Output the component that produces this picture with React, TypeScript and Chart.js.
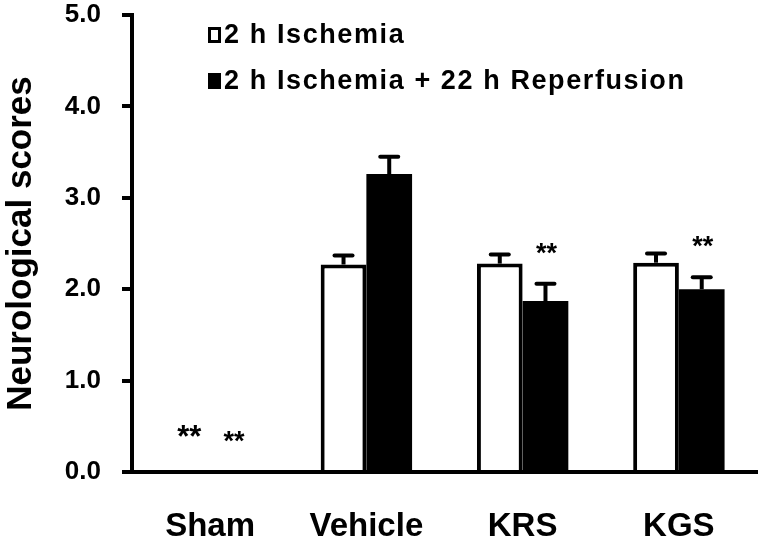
import React, { useEffect, useRef } from 'react';
import { Chart, registerables } from 'chart.js';

Chart.register(...registerables);

const categories = ['Sham', 'Vehicle', 'KRS', 'KGS'];
const seriesLabels = ['2 h Ischemia', '2 h Ischemia + 22 h Reperfusion'];
const ischemia = [0, 2.27, 2.28, 2.29];
const ischemiaErr = [0, 0.1, 0.1, 0.1];
const reperfusion = [0, 3.26, 1.87, 2.0];
const reperfusionErr = [0, 0.19, 0.19, 0.13];
const ischemiaMarks = ['**', '', '', ''];
const reperfusionMarks = ['**', '', '**', '**'];
const yTicks = [0, 1, 2, 3, 4, 5];
const yTitle = 'Neurological scores';

const errors = [ischemiaErr, reperfusionErr];
const marks = [ischemiaMarks, reperfusionMarks];

const FONT = "'Liberation Sans', Arial, sans-serif";

const errorBarPlugin = {
  id: 'errorBars',
  afterDatasetsDraw(chart: any) {
    const ctx = chart.ctx;
    const yScale = chart.scales.y;
    chart.data.datasets.forEach((ds: any, di: number) => {
      const meta = chart.getDatasetMeta(di);
      meta.data.forEach((bar: any, i: number) => {
        const err = errors[di][i];
        const v = ds.data[i];
        if (!err) return;
        const yTop = yScale.getPixelForValue(v + err);
        const yBar = yScale.getPixelForValue(v);
        ctx.save();
        ctx.strokeStyle = '#000';
        ctx.lineWidth = 4;
        ctx.beginPath();
        ctx.moveTo(bar.x, yBar);
        ctx.lineTo(bar.x, yTop);
        ctx.stroke();
        ctx.lineCap = 'round';
        ctx.beginPath();
        ctx.moveTo(bar.x - 9, yTop);
        ctx.lineTo(bar.x + 9, yTop);
        ctx.stroke();
        ctx.restore();
      });
    });
  },
};

const starsPlugin = {
  id: 'stars',
  afterDatasetsDraw(chart: any) {
    const ctx = chart.ctx;
    const yScale = chart.scales.y;
    const sizes = [31, 27];
    const gaps = [25, 22];
    chart.data.datasets.forEach((ds: any, di: number) => {
      const meta = chart.getDatasetMeta(di);
      meta.data.forEach((bar: any, i: number) => {
        const m = marks[di][i];
        if (!m) return;
        const top = ds.data[i] + errors[di][i];
        const baseline = yScale.getPixelForValue(top) - gaps[di];
        ctx.save();
        ctx.fillStyle = '#000';
        ctx.font = `bold ${sizes[di]}px ${FONT}`;
        ctx.textAlign = 'center';
        ctx.textBaseline = 'alphabetic';
        ctx.fillText(m, bar.x + (di === 0 ? 2 : 1), baseline);
        ctx.restore();
      });
    });
  },
};

const legendPlugin = {
  id: 'manualLegend',
  afterDraw(chart: any) {
    const ctx = chart.ctx;
    const area = chart.chartArea;
    const x0 = area.left + 76;
    chart.data.datasets.forEach((ds: any, i: number) => {
      const yc = area.top + 20 + i * 46;
      ctx.save();
      if (ds.backgroundColor === '#ffffff') {
        ctx.fillStyle = '#fff';
        ctx.fillRect(x0, yc - 8, 13, 16);
        ctx.strokeStyle = '#000';
        ctx.lineWidth = 3;
        ctx.strokeRect(x0 + 1.5, yc - 6.5, 10, 13);
      } else {
        ctx.fillStyle = '#000';
        ctx.fillRect(x0, yc - 8, 13, 16);
      }
      ctx.fillStyle = '#000';
      ctx.font = `bold 27px ${FONT}`;
      (ctx as any).letterSpacing = '1.6px';
      ctx.textAlign = 'left';
      ctx.textBaseline = 'middle';
      ctx.fillText(ds.label, x0 + 16, yc + 1);
      ctx.restore();
    });
  },
};

export default function App() {
  const ref = useRef<HTMLCanvasElement | null>(null);

  useEffect(() => {
    if (!ref.current) return;
    const chart = new Chart(ref.current, {
      type: 'bar',
      data: {
        labels: categories,
        datasets: [
          {
            label: seriesLabels[0],
            data: ischemia,
            backgroundColor: '#ffffff',
            borderColor: '#000000',
            borderWidth: 4,
            borderSkipped: 'start',
            categoryPercentage: 0.585,
            barPercentage: 1.0,
          },
          {
            label: seriesLabels[1],
            data: reperfusion,
            backgroundColor: '#000000',
            borderColor: '#000000',
            borderWidth: 0,
            categoryPercentage: 0.585,
            barPercentage: 1.0,
          },
        ],
      },
      options: {
        responsive: false,
        animation: false,
        devicePixelRatio: 1,
        layout: { padding: { top: 15, right: 7, bottom: 0, left: 0 } },
        plugins: {
          legend: { display: false },
          tooltip: { enabled: false },
          title: { display: false },
        },
        scales: {
          x: {
            grid: { display: false, drawTicks: false },
            border: { display: true, color: '#000', width: 4 },
            ticks: {
              color: '#000',
              padding: 35,
              font: { family: FONT, size: 33, weight: 'bold' },
            },
            afterFit: (scale: any) => {
              scale.height = 74;
              scale.paddingLeft = 0;
              scale.paddingRight = 0;
            },
          },
          y: {
            min: 0,
            max: 5,
            afterBuildTicks: (scale: any) => {
              scale.ticks = yTicks.map((v) => ({ value: v }));
            },
            grid: {
              display: true,
              drawOnChartArea: false,
              drawTicks: true,
              tickLength: 10,
              lineWidth: 4,
              color: '#000',
            },
            border: { display: true, color: '#000', width: 4 },
            ticks: {
              color: '#000',
              padding: 21,
              font: { family: FONT, size: 26, weight: 'bold' },
              callback: (v: any) => Number(v).toFixed(1),
            },
            title: {
              display: true,
              text: yTitle,
              color: '#000',
              padding: 0,
              font: { family: FONT, size: 35, weight: 'bold' },
            },
            afterFit: (scale: any) => {
              scale.width = 132;
              scale.paddingTop = 0;
              scale.paddingBottom = 0;
            },
          },
        },
      },
      plugins: [errorBarPlugin, starsPlugin, legendPlugin],
    } as any);
    return () => chart.destroy();
  }, []);

  return (
    <div style={{ position: 'fixed', left: 0, top: 0, width: 764, height: 546, background: '#fff' }}>
      <canvas ref={ref} width={764} height={546} style={{ display: 'block' }} />
    </div>
  );
}
